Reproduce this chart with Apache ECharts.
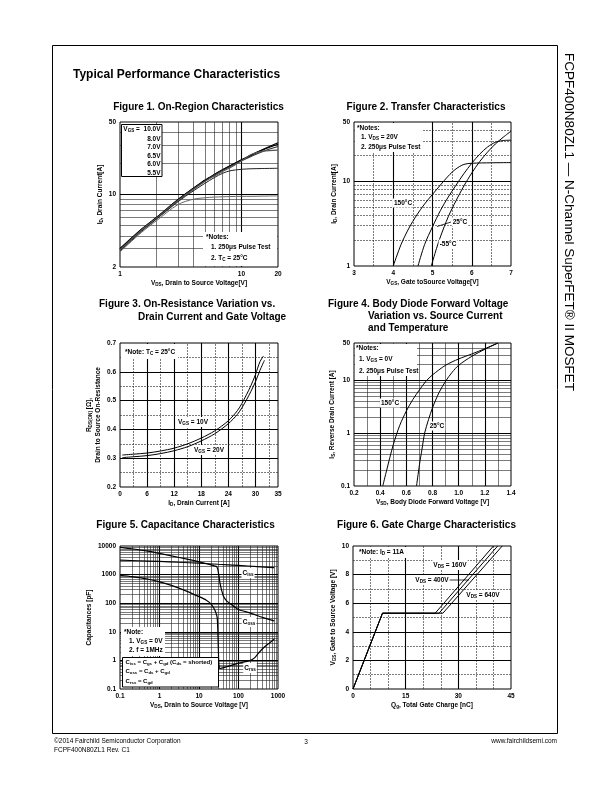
<!DOCTYPE html>
<html><head><meta charset="utf-8">
<script src="https://cdn.jsdelivr.net/npm/echarts@6/dist/echarts.min.js"></script>
<style>html,body{margin:0;padding:0;background:#fff}#c{width:612px;height:792px}</style>
</head><body><div id="c"></div>
<script>
// ================= DATA =================
// Figure 1 : On-Region Characteristics (VDS [V] vs ID [A])
const fig1Vds   = [1, 1.5, 2, 3, 4, 5, 6, 7, 8, 10, 12, 15, 20];
const fig1Id10V = [3.0, 4.6, 6.0, 8.9, 11.4, 13.7, 15.6, 17.3, 18.8, 21.6, 24.0, 27.2, 31.5];
const fig1Id8V  = [3.0, 4.6, 6.0, 8.9, 11.4, 13.7, 15.6, 17.3, 18.8, 21.5, 23.8, 26.9, 30.5];
const fig1Id7V  = [2.95, 4.55, 5.95, 8.8, 11.3, 13.5, 15.4, 17.1, 18.5, 21.1, 23.3, 26.0, 29.0];
const fig1Id65V = [2.9, 4.5, 5.9, 8.7, 11.1, 13.3, 15.1, 16.7, 18.0, 21.0, 24.3, 26.2, 26.8];
const fig1Id6V  = [2.85, 4.4, 5.8, 8.5, 10.8, 12.8, 14.6, 16.0, 16.9, 17.5, 17.7, 17.8, 17.9];
const fig1Id55V = [2.8, 4.3, 5.6, 8.0, 9.0, 9.3, 9.45, 9.5, 9.55, 9.6, 9.6, 9.65, 9.7];
const fig1GridX = [2, 3, 4, 5, 6, 7, 8, 9, 10];
const fig1GridY = [3, 4, 5, 6, 7, 8, 9, 10, 20, 30, 40];
const fig1MajorX = [10];
const fig1MajorY = [10];

// Figure 2 : Transfer Characteristics (VGS [V] vs ID [A])
const fig2Vgs150 = [4.0, 4.2, 4.4, 4.6, 4.8, 5.0, 5.2, 5.4, 5.6, 5.8, 6.0, 6.5, 7.0];
const fig2Id150  = [1.0, 1.8, 2.8, 4.0, 5.4, 7.0, 9.0, 11.5, 14.0, 15.8, 16.3, 16.5, 16.6];
const fig2Vgs25  = [4.63, 4.8, 5.0, 5.2, 5.4, 5.6, 5.8, 6.0, 6.2, 6.4, 6.6, 6.8, 7.0];
const fig2Id25   = [1.0, 1.8, 2.9, 4.5, 6.5, 9.0, 12.3, 16.3, 20.8, 25.3, 28.8, 30.2, 30.5];
const fig2VgsM55 = [4.97, 5.1, 5.2, 5.4, 5.6, 5.8, 6.0, 6.2, 6.4, 6.6, 6.8, 7.0];
const fig2IdM55  = [1.0, 1.6, 2.2, 3.8, 5.9, 8.8, 12.5, 17.0, 22.0, 27.5, 33.0, 39.0];
const fig2GridX = [3.5, 4, 4.5, 5, 5.5, 6, 6.5];
const fig2GridY = [2, 3, 4, 5, 6, 7, 8, 9, 10, 20, 30, 40];
const fig2MajorX = [4, 5, 6];
const fig2MajorY = [10];

// Figure 3 : On-Resistance vs Drain Current (ID [A] vs RDS(on) [ohm])
const fig3Id     = [0.5, 3, 6, 9, 12, 15, 18, 21, 24, 26, 27, 28, 29, 30, 31, 31.8];
const fig3R10V   = [0.311, 0.314, 0.318, 0.325, 0.335, 0.35, 0.37, 0.395, 0.43, 0.465, 0.49, 0.52, 0.552, 0.59, 0.635, 0.655];
const fig3Id20   = [0.5, 3, 6, 9, 12, 15, 18, 21, 24, 26, 27, 28, 29, 30, 31, 32];
const fig3R20V   = [0.302, 0.305, 0.309, 0.316, 0.326, 0.34, 0.36, 0.385, 0.42, 0.452, 0.475, 0.502, 0.532, 0.565, 0.605, 0.64];
const fig3GridX = [3, 6, 9, 12, 15, 18, 21, 24, 27, 30, 33];
const fig3GridY = [0.25, 0.3, 0.35, 0.4, 0.45, 0.5, 0.55, 0.6, 0.65];
const fig3MajorX = [6, 12, 18, 24, 30];
const fig3MajorY = [0.3, 0.4, 0.5, 0.6];

// Figure 4 : Body Diode Forward Voltage (VSD [V] vs IS [A])
const fig4Vsd150 = [0.42, 0.45, 0.5, 0.55, 0.6, 0.65, 0.7, 0.75, 0.8, 0.9, 1.0, 1.1, 1.2, 1.3];
const fig4Is150  = [0.1, 0.2, 0.6, 1.4, 2.6, 4.3, 6.5, 9.5, 12.5, 19, 25, 31, 39, 50];
const fig4Vsd25  = [0.678, 0.7, 0.72, 0.74, 0.77, 0.8, 0.85, 0.9, 0.95, 1.0, 1.1, 1.2, 1.3];
const fig4Is25   = [0.1, 0.25, 0.5, 1.0, 1.8, 3.0, 5.8, 9.5, 14, 19, 28, 38, 50];
const fig4GridX = [0.3, 0.4, 0.5, 0.6, 0.7, 0.8, 0.9, 1.0, 1.1, 1.2, 1.3];
const fig4GridY = [0.2, 0.3, 0.4, 0.5, 0.6, 0.7, 0.8, 0.9, 1, 2, 3, 4, 5, 6, 7, 8, 9, 10, 20, 30, 40];
const fig4MajorX = [0.4, 0.6, 0.8, 1.0, 1.2];
const fig4MajorY = [1, 10];

// Figure 5 : Capacitance Characteristics (VDS [V] vs C [pF])
const fig5VdsIss = [0.1, 0.3, 1, 3, 10, 30, 100, 300, 800];
const fig5Ciss   = [3200, 3050, 2900, 2700, 2500, 2300, 2100, 1900, 1750];
const fig5VdsOss = [0.1, 0.2, 0.5, 1, 2, 5, 10, 20, 25, 28, 30, 32, 34, 37, 42, 50, 70, 100, 200, 400, 800];
const fig5Coss   = [9000, 8000, 6600, 5500, 4500, 3500, 2800, 2200, 2000, 1900, 1500, 900, 500, 300, 170, 120, 85, 60, 45, 32, 24];
const fig5VdsRss = [0.1, 0.2, 0.5, 1, 2, 5, 10, 15, 20, 24, 27, 29, 30, 31, 32, 34, 50, 100, 200, 250, 300, 400, 500, 600, 800];
const fig5Crss   = [950, 850, 700, 560, 420, 260, 170, 130, 95, 65, 45, 30, 10, 2.0, 0.7, 0.52, 0.6, 0.8, 1.0, 1.2, 1.6, 2.5, 3.3, 4.0, 5.5];
const fig5GridX = [0.2, 0.3, 0.4, 0.5, 0.6, 0.7, 0.8, 0.9, 1, 2, 3, 4, 5, 6, 7, 8, 9, 10, 20, 30, 40, 50, 60, 70, 80, 90, 100, 200, 300, 400, 500, 600, 700, 800, 900];
const fig5GridY = [0.2, 0.3, 0.4, 0.5, 0.6, 0.7, 0.8, 0.9, 1, 2, 3, 4, 5, 6, 7, 8, 9, 10, 20, 30, 40, 50, 60, 70, 80, 90, 100, 200, 300, 400, 500, 600, 700, 800, 900, 1000, 2000, 3000, 4000, 5000, 6000, 7000, 8000, 9000];
const fig5MajorX = [1, 10, 100];
const fig5MajorY = [1, 10, 100, 1000];

// Figure 6 : Gate Charge (Qg [nC] vs VGS [V])
const fig6Qg160 = [0, 8.4, 23.4, 40.0];
const fig6Qg400 = [0, 8.4, 24.5, 41.2];
const fig6Qg640 = [0, 8.4, 25.6, 42.5];
const fig6Vgs   = [0, 5.3, 5.3, 10];
const fig6GridX = [5, 10, 15, 20, 25, 30, 35, 40];
const fig6GridY = [1, 2, 3, 4, 5, 6, 7, 8, 9];
const fig6MajorX = [15, 30];
const fig6MajorY = [2, 4, 6, 8];

// ================= CHART =================
const F = '"Liberation Sans", Arial, sans-serif';
const R = {
  b: {fontFamily: F, fontSize: 6.5, fontWeight: 'bold', color: '#000', fill: '#000'},
  s: {fontFamily: F, fontSize: 4.6, fontWeight: 'bold', color: '#000', fill: '#000', padding: [3, 0, 0, 0]},
  c: {fontFamily: F, fontSize: 6, fontWeight: 'bold', color: '#000', fill: '#000'},
  cs: {fontFamily: F, fontSize: 4.3, fontWeight: 'bold', color: '#000', fill: '#000', padding: [3, 0, 0, 0]}
};
const zip = (a, b) => a.map((v, i) => [v, b[i]]);
const fmtLog = v => String(parseFloat(Number(v).toPrecision(6)));
const fmt1 = v => Number(v).toFixed(1);

const grids = [
  {left: 120, top: 122, width: 158, height: 145},
  {left: 354, top: 122, width: 157, height: 144},
  {left: 120, top: 343, width: 158, height: 144},
  {left: 354, top: 343, width: 157, height: 143},
  {left: 120, top: 546, width: 158, height: 143},
  {left: 353, top: 546, width: 158, height: 143}
].map(g => Object.assign({show: true, borderColor: '#000', borderWidth: 1, backgroundColor: 'transparent'}, g));

function axis(i, type, min, max, interval, name, gap, isY, formatter) {
  const a = {
    gridIndex: i, type, min, max,
    axisLine: {show: false}, axisTick: {show: false}, splitLine: {show: false},
    axisLabel: {fontFamily: F, fontSize: 6.5, fontWeight: 'bold', color: '#000', margin: 4},
    name, nameLocation: 'middle', nameGap: gap,
    nameTextStyle: {fontFamily: F, fontSize: 6.5, fontWeight: 'bold', color: '#000', rich: R, align: 'center', lineHeight: 9},
  };
  if (isY) a.nameRotate = 90;
  if (type === 'log') { a.logBase = 10; a.axisLabel.formatter = fmtLog; }
  if (formatter) a.axisLabel.formatter = formatter;
  if (interval) a.interval = interval;
  return a;
}

const xAxes = [
  axis(0, 'log', 1, 20, null, '{b|V}{s|DS}{b|, Drain to Source Voltage[V]}', 8, false),
  axis(1, 'value', 3, 7, 1, '{b|V}{s|GS}{b|, Gate toSource Voltage[V]}', 8, false),
  axis(2, 'value', 0, 35, 6, '{b|I}{s|D}{b|, Drain Current [A]}', 9, false),
  axis(3, 'value', 0.2, 1.4, 0.2, '{b|V}{s|SD}{b|, Body Diode Forward Voltage [V]}', 9, false, fmt1),
  axis(4, 'log', 0.1, 1000, null, '{b|V}{s|DS}{b|, Drain to Source Voltage [V]}', 10, false),
  axis(5, 'value', 0, 45, 15, '{b|Q}{s|g}{b|, Total Gate Charge [nC]}', 10, false)
];
const yAxes = [
  axis(0, 'log', 2, 50, null, '{b|I}{s|D}{b|, Drain Current[A]}', 13, true),
  axis(1, 'log', 1, 50, null, '{b|I}{s|D}{b|, Drain Current[A]}', 13, true),
  axis(2, 'value', 0.2, 0.7, 0.1, '{b|R}{s|DS(ON)}{b| [Ω],}\n{b|Drain to Source On-Resistance}', 12, true),
  axis(3, 'log', 0.1, 50, null, '{b|I}{s|S}{b|, Reverse Drain Current [A]}', 16, true),
  axis(4, 'log', 0.1, 10000, null, '{b|Capacitances [pF]}', 18, true),
  axis(5, 'value', 0, 10, 2, '{b|V}{s|GS}{b|, Gate to Source Voltage [V]}', 14, true)
];

function gridSeries(i, gx, gy, mx, my, dashed, origin) {
  const minor = {color: '#222', width: 0.6, type: dashed ? [2, 1] : 'solid'};
  const major = {color: '#000', width: 1.1, type: 'solid'};
  const data = [];
  gx.forEach(v => data.push({xAxis: v, lineStyle: mx.includes(v) ? major : minor}));
  gy.forEach(v => data.push({yAxis: v, lineStyle: my.includes(v) ? major : minor}));
  return {
    type: 'line', xAxisIndex: i, yAxisIndex: i, data: [origin], symbol: 'none',
    lineStyle: {opacity: 0}, silent: true, z: 1,
    markLine: {silent: true, symbol: ['none', 'none'], label: {show: false}, animation: false,
      emphasis: {disabled: true}, lineStyle: minor, data}
  };
}
function curve(i, xs, ys, color, w, smooth) {
  return {type: 'line', xAxisIndex: i, yAxisIndex: i, data: zip(xs, ys), symbol: 'none', showSymbol: false,
    smooth: smooth === undefined ? 0.3 : smooth, silent: true, z: 5,
    lineStyle: {color: color || '#000', width: w || 1}};
}

const series = [
  gridSeries(0, fig1GridX, fig1GridY, fig1MajorX, fig1MajorY, false, [1, 2]),
  gridSeries(1, fig2GridX, fig2GridY, fig2MajorX, fig2MajorY, true, [3, 1]),
  gridSeries(2, fig3GridX, fig3GridY, fig3MajorX, fig3MajorY, true, [0, 0.2]),
  gridSeries(3, fig4GridX, fig4GridY, fig4MajorX, fig4MajorY, false, [0.2, 0.1]),
  gridSeries(4, fig5GridX, fig5GridY, fig5MajorX, fig5MajorY, false, [0.1, 0.1]),
  gridSeries(5, fig6GridX, fig6GridY, fig6MajorX, fig6MajorY, true, [0, 0]),
  curve(0, fig1Vds, fig1Id10V, '#000', 1.2), curve(0, fig1Vds, fig1Id8V, '#000', 1.2),
  curve(0, fig1Vds, fig1Id7V, '#333', 1.1), curve(0, fig1Vds, fig1Id65V, '#555', 1.1),
  curve(0, fig1Vds, fig1Id6V, '#222', 1), curve(0, fig1Vds, fig1Id55V, '#666', 1),
  curve(1, fig2Vgs150, fig2Id150), curve(1, fig2Vgs25, fig2Id25), curve(1, fig2VgsM55, fig2IdM55),
  curve(2, fig3Id, fig3R10V), curve(2, fig3Id20, fig3R20V),
  curve(3, fig4Vsd150, fig4Is150), curve(3, fig4Vsd25, fig4Is25),
  curve(4, fig5VdsIss, fig5Ciss, '#000', 1.2), curve(4, fig5VdsOss, fig5Coss, '#000', 1.2, 0.2),
  curve(4, fig5VdsRss, fig5Crss, '#000', 1.2, 0.2),
  curve(5, fig6Qg160, fig6Vgs, '#000', 1, false), curve(5, fig6Qg400, fig6Vgs, '#000', 1, false),
  curve(5, fig6Qg640, fig6Vgs, '#000', 1, false)
];

// ---------- page text / decorations ----------
function T(x, y, s, o) {
  return {type: 'text', z: 100, x, y, silent: true,
    style: Object.assign({text: s, rich: R, fill: '#000', fontFamily: F, fontSize: 6.5, fontWeight: 'bold',
      align: 'left', verticalAlign: 'middle'}, o || {})};
}
function box(x, y, w, h, stroke) {
  return {type: 'rect', z: 90, silent: true, shape: {x, y, width: w, height: h},
    style: {fill: '#fff', stroke: stroke ? '#000' : null, lineWidth: 1}};
}
function line(x1, y1, x2, y2) {
  return {type: 'line', z: 95, silent: true, shape: {x1, y1, x2, y2}, style: {stroke: '#000', lineWidth: 0.8}};
}
const bgLabel = {backgroundColor: '#fff', padding: [1, 1]};
const title = (x, y, s, al) => T(x, y, s, {fontSize: 10, align: al || 'left', rich: null});

const graphic = [
  {type: 'rect', z: 0, silent: true, shape: {x: 52.5, y: 45.5, width: 505, height: 688},
    style: {fill: null, stroke: '#000', lineWidth: 1}},
  T(73, 75, 'Typical Performance Characteristics', {fontSize: 12, rich: null}),
  {type: 'text', z: 100, x: 569, y: 222, rotation: -Math.PI / 2, silent: true,
    style: {text: 'FCPF400N80ZL1 — N-Channel SuperFET® II MOSFET', fill: '#000', fontFamily: F,
      fontSize: 13.5, fontWeight: 'normal', align: 'center', verticalAlign: 'middle'}},
  T(54, 741, '©2014 Fairchild Semiconductor Corporation', {fontWeight: 'normal', rich: null}),
  T(54, 750, 'FCPF400N80ZL1 Rev. C1', {fontWeight: 'normal', rich: null}),
  T(306, 742, '3', {fontWeight: 'normal', align: 'center', rich: null}),
  T(557, 741, 'www.fairchildsemi.com', {fontWeight: 'normal', align: 'right', rich: null}),

  title(198.5, 107, 'Figure 1. On-Region Characteristics', 'center'),
  title(426, 107, 'Figure 2. Transfer Characteristics', 'center'),
  title(99, 304, 'Figure 3. On-Resistance Variation vs.'),
  title(138, 317, 'Drain Current and Gate Voltage'),
  title(328, 304, 'Figure 4. Body Diode Forward Voltage'),
  title(368, 316, 'Variation vs. Source Current'),
  title(368, 328, 'and Temperature'),
  title(185.5, 525, 'Figure 5. Capacitance Characteristics', 'center'),
  title(426.5, 525, 'Figure 6. Gate Charge Characteristics', 'center'),

  // Fig 1
  box(121.5, 124.5, 40.5, 52, true),
  T(160.5, 129.5, '{b|V}{s|GS}{b| =  10.0V}', {align: 'right'}),
  T(160.5, 139, '8.0V', {align: 'right'}),
  T(160.5, 147.5, '7.0V', {align: 'right'}),
  T(160.5, 156, '6.5V', {align: 'right'}),
  T(160.5, 164.5, '6.0V', {align: 'right'}),
  T(160.5, 173, '5.5V', {align: 'right'}),
  box(203, 232, 74, 34, false),
  T(206, 237, '*Notes:'),
  T(211, 247, '1. 250μs Pulse Test'),
  T(211, 258, '{b|2. T}{s|C}{b| = 25°C}'),

  // Fig 2
  box(355, 123, 68, 29, false),
  T(357, 128, '*Notes:'),
  T(361, 137, '{b|1. V}{s|DS}{b| = 20V}'),
  T(361, 147, '2. 250μs Pulse Test'),
  T(403, 203, '150°C', Object.assign({align: 'center'}, bgLabel)),
  line(437, 226.5, 451, 222),
  T(460, 222, '25°C', Object.assign({align: 'center'}, bgLabel)),
  T(448, 244, '-55°C', Object.assign({align: 'center'}, bgLabel)),

  // Fig 3
  box(121, 344, 57, 15, false),
  T(125, 352, '{b|*Note: T}{s|C}{b| = 25°C}'),
  T(193, 422, '{b|V}{s|GS}{b| = 10V}', Object.assign({align: 'center'}, bgLabel)),
  T(209, 450, '{b|V}{s|GS}{b| = 20V}', Object.assign({align: 'center'}, bgLabel)),

  // Fig 4
  box(355, 344, 62, 32, false),
  T(356, 348, '*Notes:'),
  T(359, 359, '{b|1. V}{s|GS}{b| = 0V}'),
  T(359, 371, '2. 250μs Pulse Test'),
  T(390, 403, '150°C', Object.assign({align: 'center'}, bgLabel)),
  T(437, 426, '25°C', Object.assign({align: 'center'}, bgLabel)),

  // Fig 5
  box(121, 627, 44, 29, false),
  T(124, 632, '*Note:'),
  T(129, 641, '{b|1. V}{s|GS}{b| = 0V}'),
  T(129, 650, '2. f = 1MHz'),
  box(122.5, 657.5, 96, 29.5, true),
  T(125.5, 662.5, '{c|C}{cs|iss}{c| = C}{cs|gs}{c| + C}{cs|gd}{c| (C}{cs|ds}{c| = shorted)}'),
  T(125.5, 671.5, '{c|C}{cs|oss}{c| = C}{cs|ds}{c| + C}{cs|gd}'),
  T(125.5, 681, '{c|C}{cs|rss}{c| = C}{cs|gd}'),
  T(248, 573, '{b|C}{s|iss}', Object.assign({align: 'center'}, bgLabel)),
  T(249, 622, '{b|C}{s|oss}', Object.assign({align: 'center'}, bgLabel)),
  T(250, 668, '{b|C}{s|rss}', Object.assign({align: 'center'}, bgLabel)),

  // Fig 6
  box(355, 547, 54, 11, false),
  T(359, 552, '{b|*Note: I}{s|D}{b| = 11A}'),
  T(450, 565, '{b|V}{s|DS}{b| = 160V}', Object.assign({align: 'center'}, bgLabel)),
  T(432, 580, '{b|V}{s|DS}{b| = 400V}', Object.assign({align: 'center'}, bgLabel)),
  line(448, 580, 469, 580),
  T(483, 595, '{b|V}{s|DS}{b| = 640V}', Object.assign({align: 'center'}, bgLabel))
];

const chart = echarts.init(document.getElementById('c'), null, {renderer: 'canvas', width: 612, height: 792});
chart.setOption({
  animation: false,
  backgroundColor: '#fff',
  textStyle: {fontFamily: F},
  grid: grids, xAxis: xAxes, yAxis: yAxes, series, graphic
});
</script></body></html>
